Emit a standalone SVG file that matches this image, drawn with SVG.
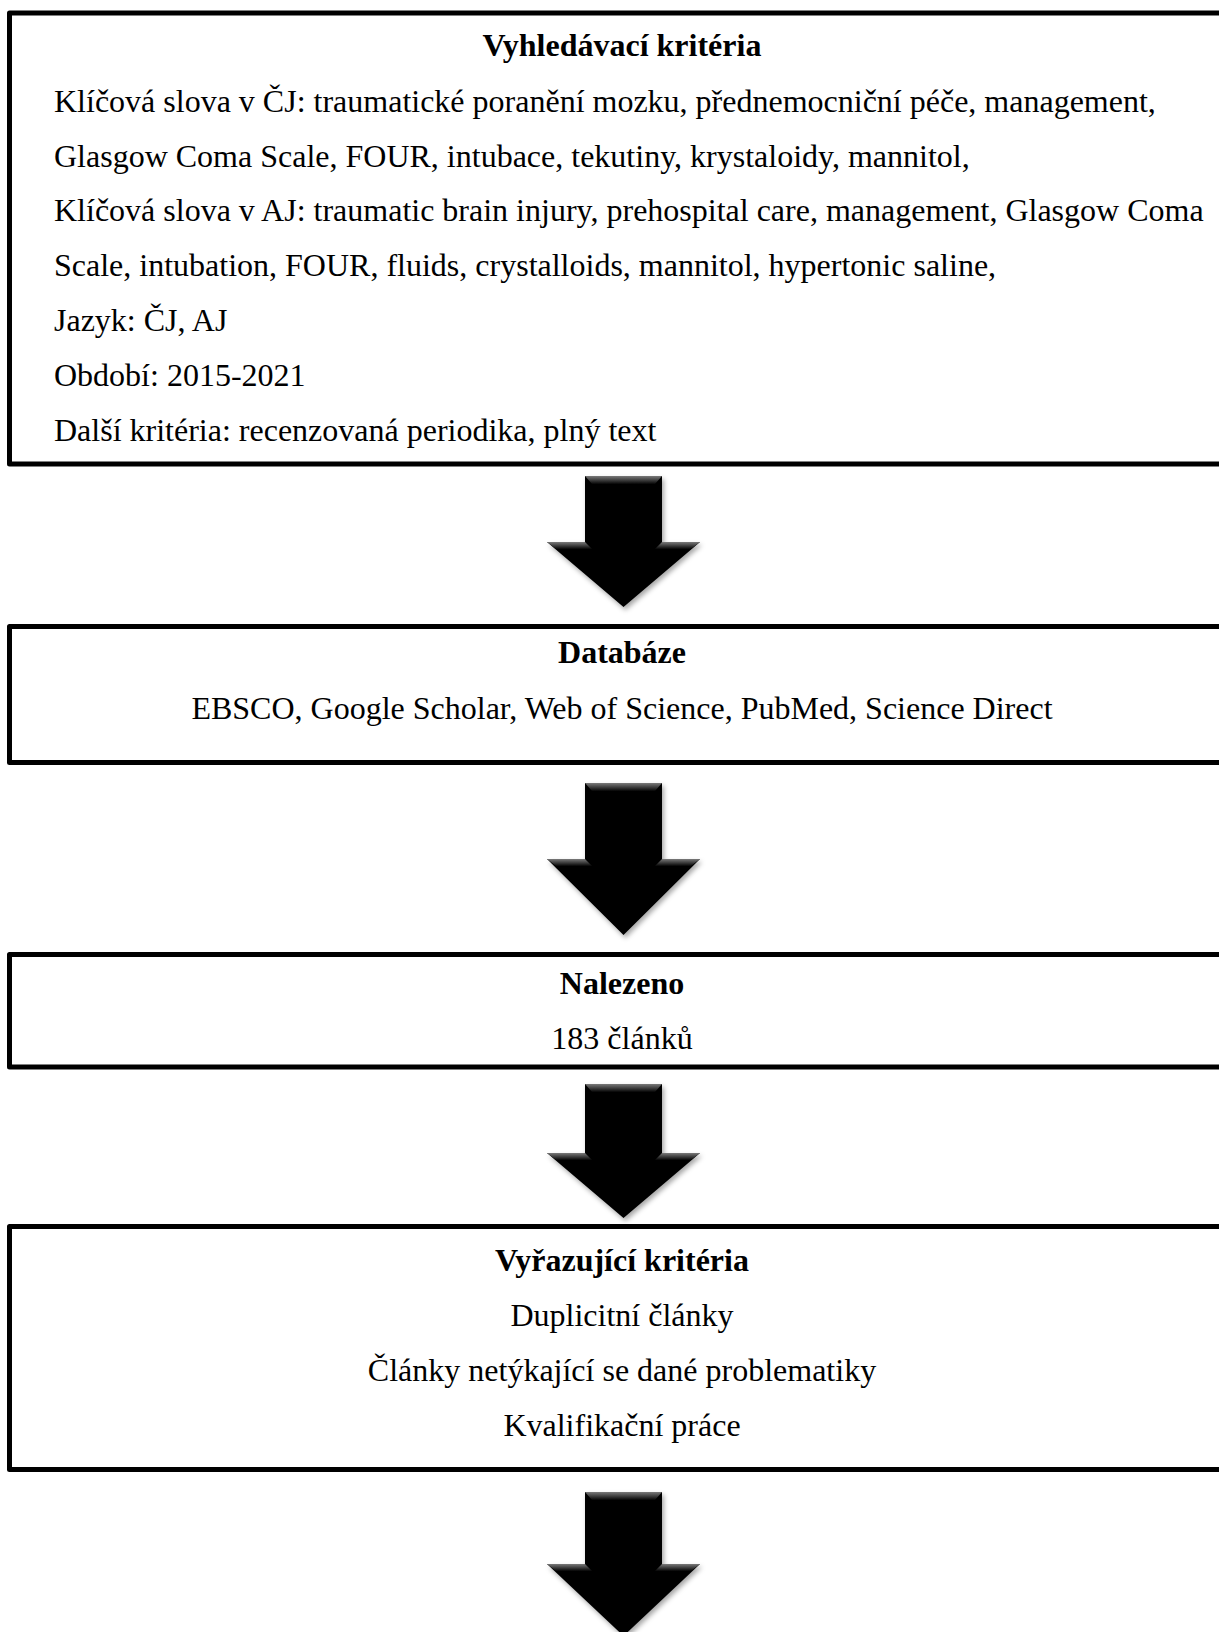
<svg xmlns="http://www.w3.org/2000/svg" width="1219" height="1632" viewBox="0 0 1219 1632">
<style>
.box{fill:#fff;stroke:#000;stroke-width:5;stroke-linejoin:round}
.t{font-family:"Liberation Serif","Times New Roman",serif;font-size:32px;fill:#000}
.c{text-anchor:middle}
.b{font-weight:bold}
.arr{fill:#000;filter:url(#sh)}
.band{fill:url(#bg)}
</style>
<defs>
<filter id="sh" x="-20%" y="-20%" width="140%" height="140%">
<feDropShadow dx="2" dy="3" stdDeviation="2.5" flood-color="#000" flood-opacity="0.35"/>
</filter>
<linearGradient id="bg" x1="0" y1="0" x2="0" y2="1">
<stop offset="0" stop-color="#7a7a7a"/>
<stop offset="1" stop-color="#050505"/>
</linearGradient>
</defs>
<rect width="1219" height="1632" fill="#fff"/>

<g id="node-vyhledavaci">
<rect class="box" x="9.5" y="13" width="1240" height="451"/>
<text class="t c b" x="622" y="56">Vyhledávací kritéria</text>
<text class="t" x="54" y="112">Klíčová slova v ČJ: traumatické poranění mozku, přednemocniční péče, management,</text>
<text class="t" x="54" y="167">Glasgow Coma Scale, FOUR, intubace, tekutiny, krystaloidy, mannitol,</text>
<text class="t" x="54" y="221">Klíčová slova v AJ: traumatic brain injury, prehospital care, management, Glasgow Coma</text>
<text class="t" x="54" y="276">Scale, intubation, FOUR, fluids, crystalloids, mannitol, hypertonic saline,</text>
<text class="t" x="54" y="331">Jazyk: ČJ, AJ</text>
<text class="t" x="54" y="386">Období: 2015-2021</text>
<text class="t" x="54" y="441">Další kritéria: recenzovaná periodika, plný text</text>
</g>

<g id="node-databaze">
<rect class="box" x="9.5" y="626.5" width="1240" height="136"/>
<text class="t c b" x="622" y="663">Databáze</text>
<text class="t c" x="622" y="719">EBSCO, Google Scholar, Web of Science, PubMed, Science Direct</text>
</g>

<g id="node-nalezeno">
<rect class="box" x="9.5" y="954.5" width="1240" height="112.5"/>
<text class="t c b" x="622" y="994">Nalezeno</text>
<text class="t c" x="622" y="1049">183 článků</text>
</g>

<g id="node-vyrazujici">
<rect class="box" x="9.5" y="1226.5" width="1240" height="243"/>
<text class="t c b" x="622" y="1271">Vyřazující kritéria</text>
<text class="t c" x="622" y="1326">Duplicitní články</text>
<text class="t c" x="622" y="1381">Články netýkající se dané problematiky</text>
<text class="t c" x="622" y="1436">Kvalifikační práce</text>
</g>

<g id="connectors">
<g id="arrow1">
<polygon class="arr" points="585,476 662,476 662,542 700,542 623.5,607 547,542 585,542"/>
<polygon class="band" points="585,476 662,476 655,484 592,484"/>
<polygon class="band" points="547,542 585,542 592,549 556,549"/>
<polygon class="band" points="662,542 700,542 691,549 655,549"/>
</g>
<g id="arrow2">
<polygon class="arr" points="585,783 662,783 662,859 700,859 623.5,935 547,859 585,859"/>
<polygon class="band" points="585,783 662,783 655,791 592,791"/>
<polygon class="band" points="547,859 585,859 592,866 556,866"/>
<polygon class="band" points="662,859 700,859 691,866 655,866"/>
</g>
<g id="arrow3">
<polygon class="arr" points="585,1084 662,1084 662,1153 700,1153 623.5,1218 547,1153 585,1153"/>
<polygon class="band" points="585,1084 662,1084 655,1092 592,1092"/>
<polygon class="band" points="547,1153 585,1153 592,1160 556,1160"/>
<polygon class="band" points="662,1153 700,1153 691,1160 655,1160"/>
</g>
<g id="arrow4">
<polygon class="arr" points="585,1492 662,1492 662,1564 700,1564 623.5,1636 547,1564 585,1564"/>
<polygon class="band" points="585,1492 662,1492 655,1500 592,1500"/>
<polygon class="band" points="547,1564 585,1564 592,1571 556,1571"/>
<polygon class="band" points="662,1564 700,1564 691,1571 655,1571"/>
</g>
</g>
</svg>
